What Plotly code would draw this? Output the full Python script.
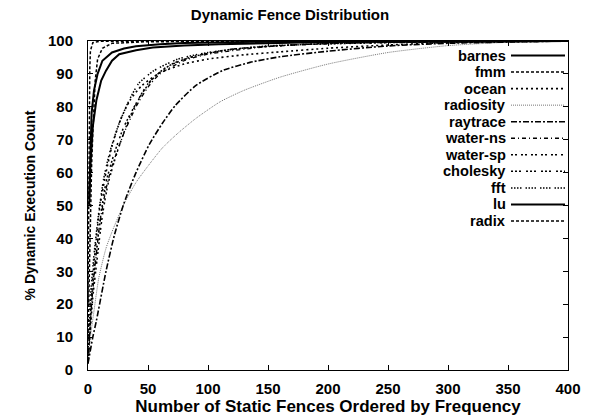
import plotly.graph_objects as go

# ---- data ----
names = ["barnes", "fmm", "ocean", "radiosity", "raytrace", "water-ns",
         "water-sp", "cholesky", "fft", "lu", "radix"]

barnes_x = [1, 2, 3, 5, 8, 12, 20, 30, 40, 60, 80, 150, 400]
barnes_y = [52, 70, 78, 85, 90, 94, 96.5, 97.7, 98.4, 99.0, 99.4, 99.8, 100]

fmm_x = [0, 1, 2, 3, 4, 5, 6, 8, 12, 20, 50, 400]
fmm_y = [10, 30, 50, 62, 72, 81, 88, 94.5, 97.8, 99.3, 99.8, 100]

ocean_x = [0, 2, 4, 7, 10, 15, 20, 27, 35, 45, 60, 80, 100, 130, 160, 200, 250, 300, 400]
ocean_y = [3, 15, 28, 40, 50, 60, 68, 76, 82, 86.5, 90.3, 93, 94.5, 95.8, 96.7, 97.8, 98.8, 99.5, 100]

radiosity_x = [0, 2, 5, 9, 15, 20, 30, 40, 50, 62, 75, 90, 110, 130, 160, 200, 250, 300, 350, 400]
radiosity_y = [3, 10, 18, 28, 37, 42, 50.5, 57, 62, 67.5, 72, 76.5, 81.5, 85, 89, 93, 96.5, 98.6, 99.6, 100]

raytrace_x = [0, 1, 4, 7, 15, 22, 30, 40, 51, 62, 73, 90, 112, 135, 160, 200, 250, 300, 400]
raytrace_y = [2, 4, 10, 15, 30, 41, 50.7, 60, 68.5, 75, 80.5, 86.5, 91, 93.5, 95.2, 96.9, 98.5, 99.3, 100]

waterns_x = [0, 3, 6, 10, 15, 20, 30, 40, 50, 60, 80, 100, 150, 200, 300, 400]
waterns_y = [2, 20, 32, 45, 55, 62, 72, 80, 86, 90, 94, 96, 98.3, 99.2, 99.8, 100]

watersp_x = [0, 4, 8, 12, 17, 25, 35, 45, 55, 70, 90, 120, 170, 250, 400]
watersp_y = [2, 22, 35, 47, 57, 67, 77, 84, 89, 93, 95.5, 97.5, 98.8, 99.5, 100]

cholesky_x = [0, 3, 7, 11, 15, 22, 30, 40, 50, 65, 85, 120, 200, 400]
cholesky_y = [3, 22, 36, 48, 57, 66, 74, 81, 87, 92, 95, 97.5, 99.3, 100]

fft_x = [0, 2, 5, 9, 13, 18, 25, 33, 42, 55, 75, 100, 150, 250, 400]
fft_y = [5, 22, 35, 48, 58, 66, 74, 81, 87, 91, 94.5, 96.5, 98.5, 99.6, 100]

lu_x = [1, 2, 4, 7, 11, 15, 20, 26, 40, 54, 80, 109, 200, 400]
lu_y = [50, 62, 74, 82, 88, 91, 94, 96, 97.2, 98, 98.6, 99, 99.7, 100]

radix_x = [0, 0.5, 1, 1.5, 2, 4, 10, 400]
radix_y = [20, 50, 80, 92, 97, 99.5, 99.9, 100]

xs = [barnes_x, fmm_x, ocean_x, radiosity_x, raytrace_x, waterns_x,
      watersp_x, cholesky_x, fft_x, lu_x, radix_x]
ys = [barnes_y, fmm_y, ocean_y, radiosity_y, raytrace_y, waterns_y,
      watersp_y, cholesky_y, fft_y, lu_y, radix_y]

x_ticks = [0, 50, 100, 150, 200, 250, 300, 350, 400]
y_ticks = [0, 10, 20, 30, 40, 50, 60, 70, 80, 90, 100]

# ---- styles ----
styles = [
    dict(color="black", width=2, dash="solid"),
    dict(color="black", width=1.5, dash="3px,2px"),
    dict(color="black", width=1.6, dash="2px,3px"),
    dict(color="#777777", width=1, dash="1px,1px"),
    dict(color="black", width=1.6, dash="6px,2px,2px,2px"),
    dict(color="black", width=1.3, dash="4px,3px,1px,3px"),
    dict(color="black", width=1.5, dash="2px,2px,2px,4px"),
    dict(color="black", width=1.5, dash="2px,2px,2px,2px,2px,5px"),
    dict(color="black", width=1.5, dash="1.5px,1.5px,1.5px,1.5px,1.5px,1.5px,1.5px,4px"),
    dict(color="black", width=2, dash="solid"),
    dict(color="black", width=1.5, dash="3px,2px"),
]
smooth = [False, False, True, True, True, True, True, True, True, False, False]

font = "Liberation Sans, Arial, Helvetica, sans-serif"

fig = go.Figure()
for n, x, y, s, sm in zip(names, xs, ys, styles, smooth):
    line = dict(s)
    if sm:
        line.update(shape="spline", smoothing=0.6)
    fig.add_trace(go.Scatter(x=x, y=y, mode="lines", name=n, line=line,
                             showlegend=False))

# gnuplot-like legend (text right-aligned, sample to the right)
L, R, T, B = 88, 568, 41, 370
W, H = R - L, B - T
y0_px, step_px = 55.5, 16.55
for i, (n, s) in enumerate(zip(names, styles)):
    py = y0_px + i * step_px
    yp = (B - py) / H
    fig.add_annotation(x=(507 - L) / W, y=yp, xref="paper", yref="paper",
                       text="<b>%s</b>" % n, showarrow=False, xanchor="right",
                       yanchor="middle", borderpad=0,
                       font=dict(size=14.6, color="black", family=font))
    fig.add_shape(type="line", xref="paper", yref="paper",
                  x0=(511 - L) / W, x1=(565 - L) / W, y0=yp, y1=yp, line=s)

fig.update_layout(
    width=603, height=420,
    margin=dict(l=L, r=603 - R, t=T, b=420 - B),
    paper_bgcolor="white", plot_bgcolor="white",
    title=dict(text="<b>Dynamic Fence Distribution</b>", x=290 / 603,
               xanchor="center", y=1 - 15 / 420, yanchor="middle",
               font=dict(size=15, color="black", family=font)),
    font=dict(family=font, color="black"),
)
fig.update_xaxes(range=[0, 400], tickvals=x_ticks, automargin=False,
                 ticktext=["<b>%d</b>" % v for v in x_ticks],
                 ticks="inside", ticklen=5, tickcolor="black", mirror="allticks",
                 showline=True, linecolor="black", linewidth=1, showgrid=False, zeroline=False,
                 tickfont=dict(size=15, family=font), ticklabelstandoff=5,
                 title=dict(text="<b>Number of Static Fences Ordered by Frequency</b>",
                            font=dict(size=17, family=font), standoff=2))
fig.update_yaxes(range=[0, 100], tickvals=y_ticks, automargin=False,
                 ticktext=["<b>%d</b>" % v for v in y_ticks],
                 ticks="inside", ticklen=5, tickcolor="black", mirror="allticks",
                 showline=True, linecolor="black", linewidth=1, showgrid=False, zeroline=False,
                 tickfont=dict(size=15, family=font), ticklabelstandoff=11,
                 title=dict(text="<b>% Dynamic Execution Count</b>",
                            font=dict(size=14, family=font), standoff=9))

fig.write_html("out.html")
